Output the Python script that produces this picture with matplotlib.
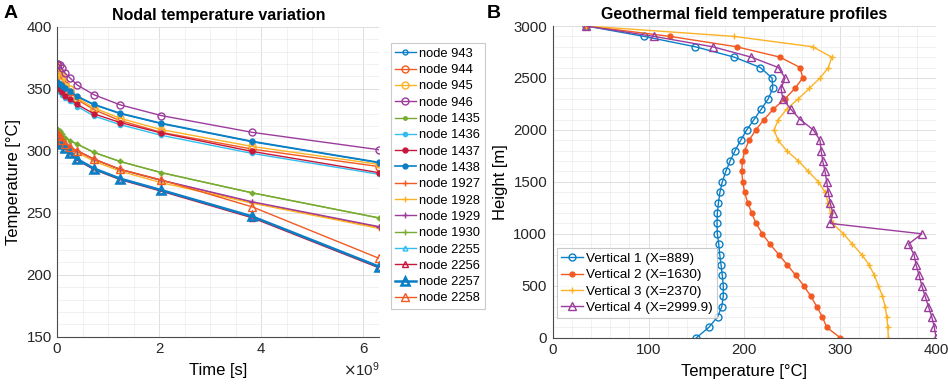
import matplotlib
matplotlib.use("Agg")
import matplotlib.pyplot as plt
from matplotlib.ticker import MultipleLocator, ScalarFormatter

plt.rcParams['font.family'] = ['Liberation Sans', 'DejaVu Sans']

# ---------------- Panel A data ----------------
time_s = [0, 0.02e9, 0.05e9, 0.09e9, 0.15e9, 0.25e9, 0.39e9, 0.72e9, 1.23e9, 2.04e9, 3.82e9, 6.3e9]

node_943 = [355.2, 354.7, 353.7, 352.2, 350.2, 347.7, 343.5, 337.0, 329.9, 321.8, 307.2, 290.3]
node_944 = [367.0, 365.0, 362.0, 358.0, 353.0, 347.5, 341.3, 333.0, 324.3, 314.8, 301.3, 287.2]
node_945 = [368.0, 366.0, 363.5, 360.0, 355.0, 350.0, 342.4, 334.6, 326.1, 317.0, 303.4, 289.0]
node_946 = [370.3, 369.6, 369.0, 366.3, 362.7, 358.6, 353.0, 345.1, 337.0, 328.3, 314.8, 300.8]
node_1435 = [317.5, 316.8, 315.5, 313.5, 310.5, 308.0, 305.3, 298.6, 291.3, 282.3, 266.0, 245.8]
node_1436 = [351.0, 349.5, 347.5, 345.0, 342.5, 339.9, 335.6, 328.0, 321.0, 312.4, 297.8, 281.0]
node_1437 = [352.7, 351.5, 349.5, 347.0, 344.5, 341.3, 337.3, 329.7, 322.7, 314.3, 299.4, 282.3]
node_1438 = [355.5, 355.0, 354.0, 352.5, 350.5, 348.0, 343.8, 337.3, 330.2, 322.1, 307.5, 290.6]
node_1927 = [313.8, 312.8, 311.2, 308.7, 305.2, 302.2, 299.7, 293.0, 284.8, 276.0, 258.3, 238.2]
node_1928 = [313.0, 312.0, 310.3, 307.8, 304.3, 301.0, 298.5, 291.5, 283.5, 274.2, 257.7, 237.4]
node_1929 = [314.0, 313.0, 311.5, 309.0, 305.5, 302.5, 300.0, 293.2, 285.0, 276.2, 258.8, 238.8]
node_1930 = [317.5, 316.8, 315.5, 313.5, 310.5, 308.0, 305.3, 298.6, 291.3, 282.3, 266.0, 245.8]
node_2255 = [309.0, 307.9, 306.3, 304.9, 302.1, 298.1, 292.8, 285.2, 277.1, 267.8, 246.4, 206.0]
node_2256 = [308.8, 307.6, 306.0, 304.5, 301.7, 297.7, 292.4, 284.8, 276.7, 267.3, 245.9, 205.6]
node_2257 = [309.4, 308.2, 306.7, 305.3, 302.5, 298.5, 293.2, 285.6, 277.5, 268.2, 247.0, 206.6]
node_2258 = [314.0, 313.0, 311.5, 309.0, 305.8, 302.8, 300.0, 293.2, 285.0, 276.4, 254.7, 213.3]

node_labels = ['node 943', 'node 944', 'node 945', 'node 946', 'node 1435', 'node 1436',
               'node 1437', 'node 1438', 'node 1927', 'node 1928', 'node 1929', 'node 1930',
               'node 2255', 'node 2256', 'node 2257', 'node 2258']

# ---------------- Panel B data ----------------
height_m = [0, 100, 200, 300, 400, 500, 600, 700, 800, 900, 1000, 1100, 1200, 1300, 1400, 1500,
            1600, 1700, 1800, 1900, 2000, 2100, 2200, 2300, 2400, 2500, 2600, 2700, 2800, 2900, 3000]
vertical_1 = [150, 163, 172, 176.5, 178, 178, 177, 175.7, 174.3, 173.3, 171.8, 171.5, 171.8, 173,
              174.5, 177, 180.6, 185.1, 190.3, 196.2, 202.5, 210.1, 217.7, 225, 229.6, 228.9,
              216.7, 189.6, 148.9, 95.3, 35]
vertical_2 = [300, 286, 281.4, 275.6, 269.3, 262, 253.7, 244.9, 235.9, 226.8, 218.8, 212.2, 207.7,
              203.5, 200.2, 198.3, 197.3, 197.9, 200.4, 204.9, 211.9, 220.6, 230.3, 242.5, 252.9,
              260.9, 258.2, 237.3, 192, 122.4, 35]
vertical_3 = [350.3, 349.7, 348.6, 346.9, 344.1, 339.9, 335.7, 330.2, 322.5, 312.8, 303.4, 292,
              290, 287.5, 284.2, 277.3, 266.8, 256.4, 244.2, 235.2, 231, 235.5, 244.2, 256.4,
              267.9, 279, 287.7, 291.2, 271.4, 189.2, 35]
vertical_4 = [400, 398.3, 395.6, 392.1, 388.6, 385.2, 382.4, 379.2, 377.1, 371.2, 385.2, 289.5,
              292.3, 289.5, 287.5, 286, 284.2, 281.8, 280.1, 279, 272, 258.2, 248.4, 240.1, 238.3,
              242.5, 235.5, 207.3, 167, 105.7, 35]
vertical_labels = ['Vertical 1 (X=889)', 'Vertical 2 (X=1630)', 'Vertical 3 (X=2370)',
                   'Vertical 4 (X=2999.9)']

# colours (MATLAB-like palette)
C_BLUE = '#0a7fc6'
C_ORANGE = '#f25a22'
C_YELLOW = '#fbb325'
C_PURPLE = '#9b3c9d'
C_GREEN = '#77ac30'
C_CYAN = '#34bdee'
C_RED = '#c8173c'

W, H = 948, 384
fig = plt.figure(figsize=(W / 100, H / 100), dpi=100)

def px_axes(x0, y0, x1, y1):
    return fig.add_axes([x0 / W, 1 - y1 / H, (x1 - x0) / W, (y1 - y0) / H])

def style_axes(ax):
    ax.grid(True, which='major', color='#d9d9d9', linewidth=0.6)
    ax.grid(True, which='minor', color='#ececec', linewidth=0.5)
    ax.set_axisbelow(True)
    for s in ['top', 'right']:
        ax.spines[s].set_visible(False)
    for s in ['left', 'bottom']:
        ax.spines[s].set_color('#4a4a4a')
        ax.spines[s].set_linewidth(0.8)
    ax.tick_params(which='both', direction='in', length=0, labelsize=10.8, colors='#262626', pad=4)

# ---------------- Panel A ----------------
axA = px_axes(57.3, 26.7, 379.3, 336.7)
series_A = [
    (node_943, C_BLUE, 'o', 3.5, 'none', 1.0),
    (node_944, C_ORANGE, 'o', 5, 'none', 1.0),
    (node_945, C_YELLOW, 'o', 5, 'none', 1.0),
    (node_946, C_PURPLE, 'o', 5, 'none', 1.0),
    (node_1435, C_GREEN, '.', 5, None, 1.0),
    (node_1436, C_CYAN, '.', 6, None, 1.0),
    (node_1437, C_RED, '.', 7, None, 1.0),
    (node_1438, C_BLUE, '.', 7, None, 1.2),
    (node_1927, C_ORANGE, '+', 5, None, 1.0),
    (node_1928, C_YELLOW, '+', 5, None, 1.0),
    (node_1929, C_PURPLE, '+', 5, None, 1.0),
    (node_1930, C_GREEN, '+', 5, None, 1.0),
    (node_2255, C_CYAN, '^', 3.5, 'none', 1.0),
    (node_2256, C_RED, '^', 5, 'none', 1.0),
    (node_2257, C_BLUE, '^', 5.5, 'none', 1.8),
    (node_2258, C_ORANGE, '^', 5.5, 'none', 1.0),
]
for (vals, col, mk, ms, mfc, lw), lab in zip(series_A, node_labels):
    kw = dict(color=col, marker=mk, markersize=ms, linewidth=lw, label=lab)
    if mfc == 'none':
        kw['markerfacecolor'] = 'none'
        kw['markeredgewidth'] = lw
    axA.plot(time_s, vals, **kw)

axA.set_xlim(0, 6.31e9)
axA.set_ylim(150, 400)
axA.set_xticks([0, 2e9, 4e9, 6e9])
axA.set_yticks([150, 200, 250, 300, 350, 400])
axA.xaxis.set_minor_locator(MultipleLocator(0.5e9))
axA.yaxis.set_minor_locator(MultipleLocator(10))
fmt = ScalarFormatter(useMathText=True)
fmt.set_powerlimits((0, 0))
axA.xaxis.set_major_formatter(fmt)
style_axes(axA)
axA.xaxis.get_offset_text().set_fontsize(10.8)
axA.xaxis.get_offset_text().set_color('#262626')
axA.set_xlabel('Time [s]', fontsize=12, labelpad=5)
axA.set_ylabel('Temperature [°C]', fontsize=12, labelpad=4)
axA.set_title('Nodal temperature variation', fontsize=11.5, fontweight='bold', pad=5)
legA = axA.legend(loc='upper left', bbox_to_anchor=((390.5 - 57.3) / 322.0, 1 - (43.3 - 26.7) / 310.0),
                  fontsize=9.3, frameon=True, fancybox=False, edgecolor='#bdbdbd',
                  labelspacing=0.33, handlelength=1.6, handletextpad=0.25, borderpad=0.35,
                  borderaxespad=0)
legA.get_frame().set_linewidth(0.8)

# ---------------- Panel B ----------------
axB = px_axes(552.7, 26.0, 936.0, 337.7)
series_B = [
    (vertical_1, C_BLUE, 'o', 5, 'none'),
    (vertical_2, C_ORANGE, '.', 7, None),
    (vertical_3, C_YELLOW, '+', 5, None),
    (vertical_4, C_PURPLE, '^', 5.5, 'none'),
]
for (vals, col, mk, ms, mfc), lab in zip(series_B, vertical_labels):
    kw = dict(color=col, marker=mk, markersize=ms, linewidth=1.0, label=lab)
    if mfc == 'none':
        kw['markerfacecolor'] = 'none'
    axB.plot(vals, height_m, **kw)
axB.set_xlim(0, 400)
axB.set_ylim(0, 3000)
axB.set_xticks([0, 100, 200, 300, 400])
axB.set_yticks([0, 500, 1000, 1500, 2000, 2500, 3000])
axB.xaxis.set_minor_locator(MultipleLocator(20))
axB.yaxis.set_minor_locator(MultipleLocator(100))
style_axes(axB)
axB.set_xlabel('Temperature [°C]', fontsize=12, labelpad=5)
axB.set_ylabel('Height [m]', fontsize=12, labelpad=4)
axB.set_title('Geothermal field temperature profiles', fontsize=11.5, fontweight='bold', pad=5)
legB = axB.legend(loc='upper left', bbox_to_anchor=((557.3 - 552.7) / 383.3, 1 - (248.3 - 26.0) / 311.7),
                  fontsize=9.7, frameon=True, fancybox=False, edgecolor='#bdbdbd',
                  labelspacing=0.3, handlelength=1.6, handletextpad=0.25, borderpad=0.3,
                  borderaxespad=0)
legB.get_frame().set_linewidth(0.8)

fig.text(4 / W, 1 - 13 / H, 'A', fontsize=14, fontweight='bold', va='center', ha='left')
fig.text(487 / W, 1 - 13 / H, 'B', fontsize=14, fontweight='bold', va='center', ha='left')

fig.savefig('out.png', dpi=100)
